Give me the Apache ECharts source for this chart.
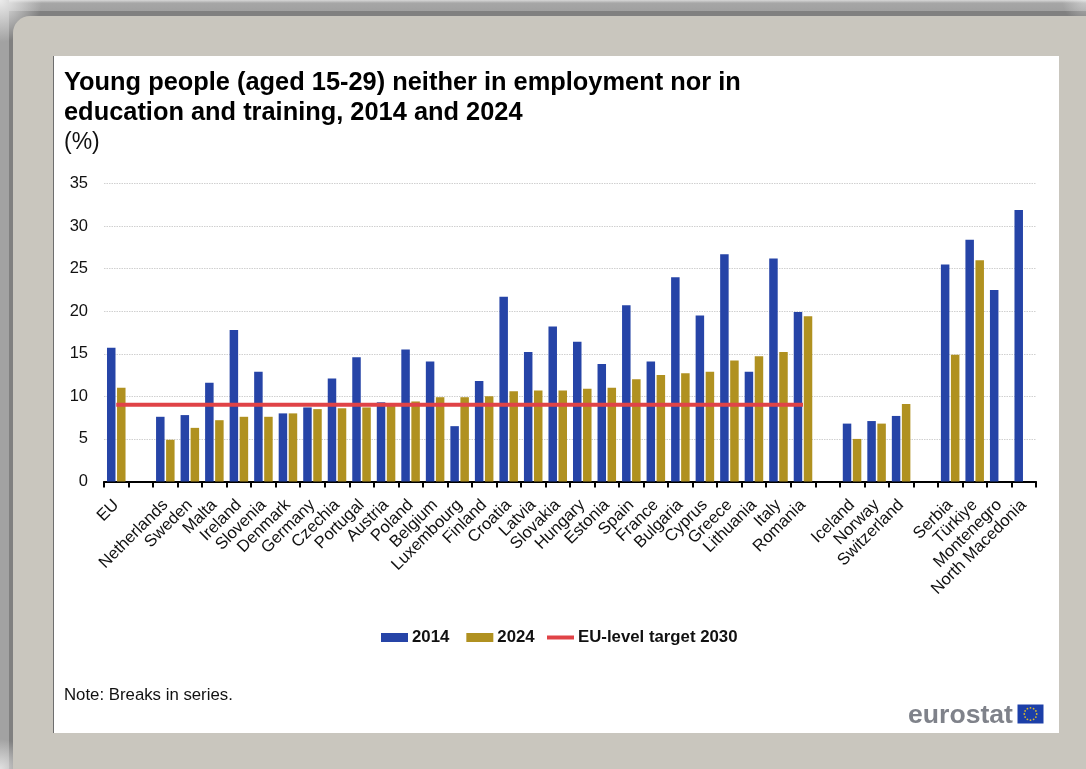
<!DOCTYPE html>
<html>
<head>
<meta charset="utf-8">
<title>Young people neither in employment nor in education and training</title>
<script src="https://cdn.jsdelivr.net/npm/echarts@6/dist/echarts.min.js"></script>
<style>
html, body { margin: 0; padding: 0; background: #c9c6be; }
#chart { width: 1086px; height: 769px; }
</style>
</head>
<body>
<div id="chart"></div>
<script>
// Country groups are separated by empty categories.
const categories = ['EU', '', 'Netherlands', 'Sweden', 'Malta', 'Ireland', 'Slovenia', 'Denmark', 'Germany',
  'Czechia', 'Portugal', 'Austria', 'Poland', 'Belgium', 'Luxembourg', 'Finland', 'Croatia', 'Latvia',
  'Slovakia', 'Hungary', 'Estonia', 'Spain', 'France', 'Bulgaria', 'Cyprus', 'Greece', 'Lithuania', 'Italy',
  'Romania', '', 'Iceland', 'Norway', 'Switzerland', '', 'Serbia', 'Türkiye', 'Montenegro', 'North Macedonia'];

const values2014 = [15.7, null, 7.6, 7.8, 11.6, 17.8, 12.9, 8.0, 8.7, 12.1, 14.6, 9.3, 15.5, 14.1, 6.5, 11.8,
  21.7, 15.2, 18.2, 16.4, 13.8, 20.7, 14.1, 24.0, 19.5, 26.7, 12.9, 26.2, 19.9, null, 6.8, 7.1, 7.7, null,
  25.5, 28.4, 22.5, 31.9];

const values2024 = [11.0, null, 4.9, 6.3, 7.2, 7.6, 7.6, 8.0, 8.5, 8.6, 8.7, 9.0, 9.4, 9.9, 9.9, 10.0,
  10.6, 10.7, 10.7, 10.9, 11.0, 12.0, 12.5, 12.7, 12.9, 14.2, 14.7, 15.2, 19.4, null, 5.0, 6.8, 9.1, null,
  14.9, 26.0, null, null];

// The 2030 target applies to the EU and its members only.
const target2030 = [9, 9, 9, 9, 9, 9, 9, 9, 9, 9, 9, 9, 9, 9, 9, 9, 9, 9, 9, 9, 9, 9, 9, 9, 9, 9, 9, 9, 9];

const yTicks = { min: 0, max: 35, step: 5 };
const FONT = '"Liberation Sans", Arial, sans-serif';
const BLUE = '#2644a7';
const GOLD = '#b09120';
const RED = '#e04347';

const chart = echarts.init(document.getElementById('chart'), null, { renderer: 'canvas' });

// Twelve stars on the flag of the logo, placed around a circle.
const flagStars = Array.from({ length: 12 }, (_, i) => ({
  type: 'circle',
  z: 5,
  shape: {
    cx: 1030.5 + 6.2 * Math.cos(i * Math.PI / 6),
    cy: 714 + 6.2 * Math.sin(i * Math.PI / 6),
    r: 0.9
  },
  style: { fill: '#d9b92e' }
}));

const vGrad = (stops) => ({ type: 'linear', x: 0, y: 0, x2: 0, y2: 1, colorStops: stops });

// Soft light patch fading out from a corner of the frame.
const cornerGlow = (x, y, size, strength) => ({
  type: 'rect',
  z: -19.5,
  shape: { x: x - size, y: y - size, width: size * 2, height: size * 2 },
  style: {
    fill: {
      type: 'radial', x: 0.5, y: 0.5, r: 0.5,
      colorStops: [
        { offset: 0, color: `rgba(240,240,240,${strength})` },
        { offset: 1, color: 'rgba(240,240,240,0)' }
      ]
    }
  }
});

const legendText = { fontFamily: FONT, fontWeight: 'bold', fontSize: 16.8, color: '#111111', padding: [0, 0, 0, -1] };

chart.setOption({
  animation: false,
  backgroundColor: '#808080',
  title: [
    {
      text: 'Young people (aged 15-29) neither in employment nor in\neducation and training, 2014 and 2024',
      left: 59, top: 63,
      textStyle: { fontFamily: FONT, fontWeight: 'bold', fontSize: 25.4, lineHeight: 30, color: '#000000' }
    },
    {
      text: '(%)',
      left: 59, top: 126,
      textStyle: { fontFamily: FONT, fontWeight: 'normal', fontSize: 23, color: '#111111' }
    },
    {
      text: 'Note: Breaks in series.',
      left: 59, top: 682,
      textStyle: { fontFamily: FONT, fontWeight: 'normal', fontSize: 16.8, color: '#111111' }
    }
  ],
  legend: [
    {
      left: 376, top: 624,
      itemWidth: 27, itemHeight: 9, itemGap: 17,
      textStyle: legendText,
      data: [{ name: '2014', icon: 'rect' }, { name: '2024', icon: 'rect' }]
    },
    {
      left: 542, top: 624,
      itemWidth: 27, itemHeight: 4,
      textStyle: legendText,
      data: [{ name: 'EU-level target 2030', icon: 'rect' }]
    }
  ],
  grid: { left: 104, right: 50, top: 183.5, bottom: 287.5 },
  xAxis: {
    type: 'category',
    data: categories,
    boundaryGap: true,
    axisLine: { lineStyle: { color: '#000000', width: 2 } },
    axisTick: { show: true, length: 6, interval: 0, lineStyle: { color: '#000000', width: 2 } },
    axisLabel: { interval: 0, rotate: 45, margin: 21, fontFamily: FONT, fontSize: 16.6, color: '#111111' },
    splitLine: { show: false }
  },
  yAxis: {
    type: 'value',
    min: yTicks.min,
    max: yTicks.max,
    interval: yTicks.step,
    axisLine: { show: false },
    axisTick: { show: false },
    axisLabel: { margin: 16, fontFamily: FONT, fontSize: 16.5, color: '#111111' },
    splitLine: { lineStyle: { color: '#d0d0d0', width: 1, type: [1.5, 1] } }
  },
  series: [
    {
      name: '2014', type: 'bar', data: values2014, barWidth: 8.5, barGap: '18%',
      itemStyle: { color: BLUE }, z: 2
    },
    {
      name: '2024', type: 'bar', data: values2024, barWidth: 8.5,
      itemStyle: { color: GOLD }, z: 2
    },
    {
      name: 'EU-level target 2030', type: 'line', data: target2030,
      symbol: 'none', z: 4,
      lineStyle: { color: RED, width: 4 },
      itemStyle: { color: RED }
    }
  ],
  graphic: [
    // Frame around the white sheet
    { type: 'rect', z: -20, shape: { x: 0, y: 0, width: 1086, height: 11 },
      style: { fill: vGrad([
        { offset: 0, color: '#d8d8d8' }, { offset: 0.28, color: '#a6a6a6' }, { offset: 1, color: '#a0a0a0' }
      ]) } },
    { type: 'rect', z: -20, shape: { x: 0, y: 0, width: 9, height: 769 },
      style: { fill: '#a2a2a2' } },
    cornerGlow(0, 0, 42, 0.95),
    cornerGlow(0, 769, 30, 0.8),
    cornerGlow(1086, 0, 24, 0.5),
    { type: 'rect', z: -19, shape: { x: 13, y: 16, width: 1100, height: 800, r: 17 },
      style: { fill: '#c9c6be' } },
    { type: 'rect', z: -18, shape: { x: 53, y: 56, width: 1006, height: 677 },
      style: { fill: '#ffffff' } },
    { type: 'rect', z: -17, shape: { x: 53, y: 56, width: 1, height: 677 },
      style: { fill: '#6e6e6e' } },
    // Publisher logo
    { type: 'text', z: 5, x: 908, y: 702,
      style: { text: 'eurostat', font: 'bold 26.6px ' + FONT, fill: '#7f828a' } },
    { type: 'rect', z: 4, shape: { x: 1017.5, y: 704.5, width: 26, height: 19 },
      style: { fill: '#1c3fa8' } },
    ...flagStars
  ]
});
</script>
</body>
</html>
